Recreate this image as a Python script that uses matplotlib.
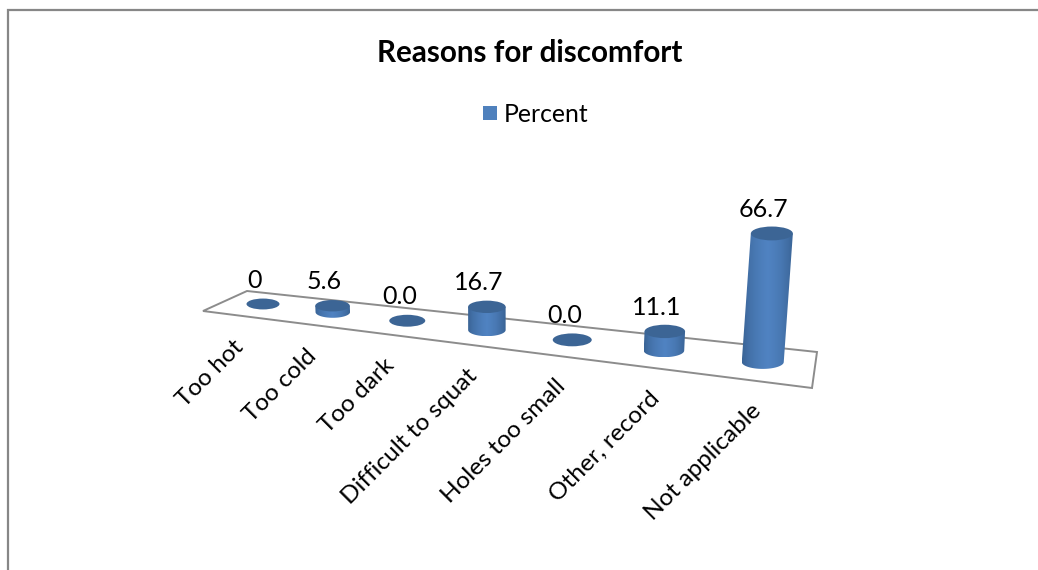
import numpy as np
import matplotlib
matplotlib.use('Agg')
import matplotlib.pyplot as plt
from matplotlib.patches import Ellipse, Polygon, Rectangle

categories = ['Too hot', 'Too cold', 'Too dark', 'Difficult to squat',
              'Holes too small', 'Other, record', 'Not applicable']
percent = [0, 5.6, 0.0, 16.7, 0.0, 11.1, 66.7]
value_labels = ['0', '5.6', '0.0', '16.7', '0.0', '11.1', '66.7']

plt.rcParams['font.family'] = ['Lato', 'DejaVu Sans']

W, H = 1038, 570
FLOOR = [(203, 311), (812, 388), (817, 352), (247, 291)]
LEAN_X = 490


def project(i):
    # foreshortening along the row of columns
    w = 1 - 0.0314 * i
    x = 263 + 67.6 * i / w
    y = 304 + 0.116 * (x - 263)
    return x, y, w


def draw_column(ax, i, value, label):
    x, y, w = project(i)
    rx = 16.5 + 4.5 * i / (len(percent) - 1)
    ry = rx * 0.33
    h = value * 1.03 / w ** 3
    top_x = x + (x - LEAN_X) * h / 3850
    top_y = y - h

    if value > 0:
        # body outline: both sides plus the rounded bottom
        t = np.linspace(0, np.pi, 40)
        low = np.column_stack([x + rx * np.cos(t), y + ry * np.sin(t)])
        outline = np.vstack([[[top_x + rx, top_y]], low, [[top_x - rx, top_y]]])
        body = Polygon(outline, closed=True, fc='none', ec='none')
        ax.add_patch(body)
        shade = np.array([0.0, 0.4, 0.65, 0.85, 1.0, 0.85, 0.65, 0.35, 0.0])
        grad = np.interp(np.linspace(0, 1, 64), np.linspace(0, 1, 9), shade)
        dark, light = np.array([0x3A, 0x64, 0x96]), np.array([0x50, 0x83, 0xC2])
        img = dark + (light - dark) * grad[:, None]
        left = min(x, top_x) - rx
        right = max(x, top_x) + rx
        im = ax.imshow(img[None, :, :] / 255, extent=(left, right, y + ry, top_y),
                       aspect='auto', zorder=2)
        im.set_clip_path(body)

    ax.add_patch(Ellipse((top_x, top_y), 2 * rx, 2 * ry, fc='#3C6595', ec='none', zorder=3))
    ax.text(top_x - 8, top_y - 24, label, fontsize=18, color='black',
            ha='center', va='center')


fig = plt.figure(figsize=(W / 100, H / 100), dpi=100)
ax = fig.add_axes([0, 0, 1, 1])

# floor of the chart
ax.add_patch(Polygon(FLOOR, closed=True, fc='white', ec='#8C8C8C', lw=1.4, zorder=1))

for i in range(len(percent)):
    draw_column(ax, i, percent[i], value_labels[i])

# category labels slanted under the front edge
for i, name in enumerate(categories):
    x, y, w = project(i)
    edge_y = 311 + (x - 203) * 0.1264
    ax.text(x - 30 + 3 * i, edge_y + 18, name, fontsize=17.6, rotation=45,
            rotation_mode='anchor', ha='right', va='top', color='black')

# chart frame, cut by the page on the right and bottom
ax.plot([8, 8, W], [H, 10, 10], color='#878787', lw=1.6, solid_joinstyle='miter')

ax.text(530, 53, 'Reasons for discomfort', fontsize=21.3, fontweight='bold',
        ha='center', va='center')
ax.add_patch(Rectangle((483, 106), 14, 14, fc='#4F81BD', ec='none'))
ax.text(504, 114, 'Percent', fontsize=17.8, ha='left', va='center')

ax.set_xlim(0, W)
ax.set_ylim(H, 0)
ax.axis('off')

fig.savefig('out.png', dpi=100, facecolor='white')
